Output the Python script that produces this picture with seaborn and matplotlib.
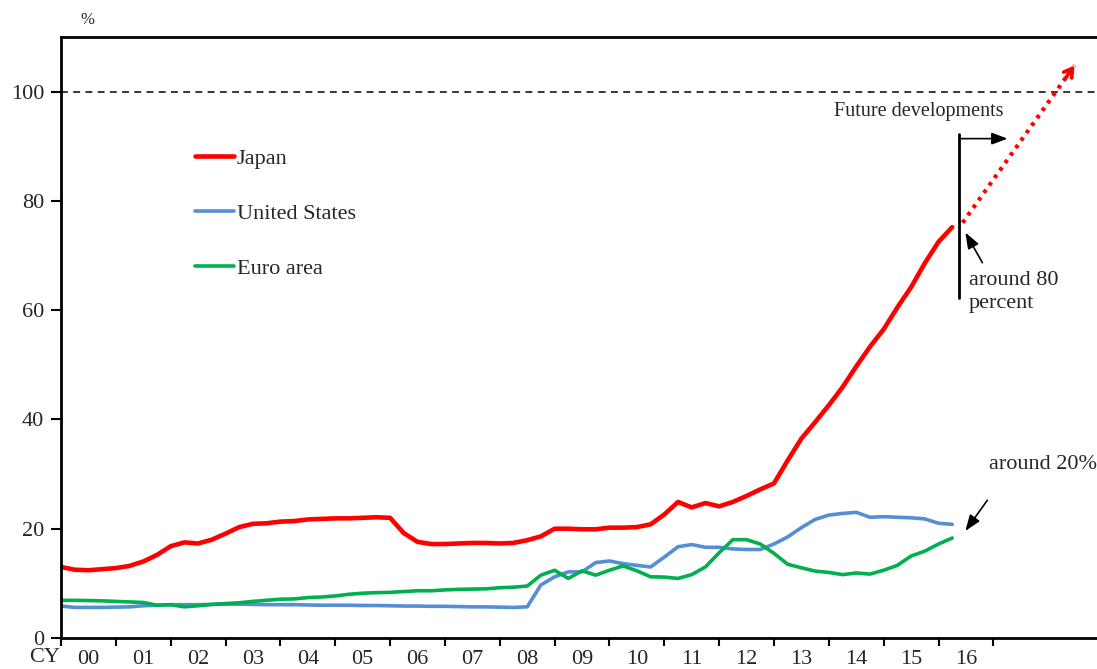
import matplotlib

matplotlib.use("Agg")
import matplotlib.pyplot as plt
import numpy as np
import pandas as pd
import seaborn as sns

# Central bank government bond holdings share, quarterly 2000Q1 - 2016Q2 (%)
QUARTERS = pd.period_range("2000Q1", "2016Q2", freq="Q")

japan = [
    13.0, 12.5, 12.4, 12.6, 12.8, 13.2, 14.0, 15.2, 16.8, 17.5,
    17.3, 18.0, 19.1, 20.3, 20.9, 21.0, 21.3, 21.4, 21.7, 21.8,
    21.9, 21.9, 22.0, 22.1, 22.0, 19.2, 17.6, 17.2, 17.2, 17.3,
    17.4, 17.4, 17.3, 17.4, 17.9, 18.6, 20.0, 20.0, 19.9, 19.9,
    20.2, 20.2, 20.3, 20.8, 22.6, 24.9, 23.9, 24.7, 24.1, 24.9,
    26.0, 27.2, 28.3, 32.5, 36.5, 39.5, 42.6, 45.9, 49.7, 53.3,
    56.5, 60.5, 64.2, 68.6, 72.5, 75.2,
]
united_states = [
    5.85, 5.6, 5.6, 5.6, 5.65, 5.7, 5.9, 6.0, 6.1, 6.1,
    6.1, 6.15, 6.2, 6.2, 6.15, 6.1, 6.1, 6.1, 6.05, 6.0,
    6.0, 6.0, 5.95, 5.95, 5.9, 5.85, 5.85, 5.8, 5.8, 5.75,
    5.7, 5.7, 5.65, 5.6, 5.7, 9.7, 11.2, 12.1, 12.1, 13.8,
    14.1, 13.6, 13.3, 13.0, 14.8, 16.7, 17.1, 16.6, 16.6, 16.3,
    16.2, 16.2, 17.2, 18.5, 20.2, 21.7, 22.5, 22.8, 23.0, 22.1,
    22.2, 22.1, 22.0, 21.8, 21.0, 20.8,
]
euro_area = [
    6.9, 6.9, 6.85, 6.8, 6.7, 6.6, 6.5, 6.0, 6.1, 5.7,
    5.9, 6.15, 6.3, 6.45, 6.7, 6.9, 7.1, 7.15, 7.4, 7.5,
    7.7, 8.0, 8.2, 8.3, 8.35, 8.5, 8.65, 8.65, 8.8, 8.9,
    8.95, 9.0, 9.2, 9.3, 9.5, 11.5, 12.4, 10.9, 12.3, 11.5,
    12.4, 13.2, 12.3, 11.2, 11.15, 10.9, 11.6, 13.0, 15.6, 18.0,
    18.0, 17.2, 15.5, 13.5, 12.85, 12.25, 12.0, 11.6, 11.9, 11.7,
    12.4, 13.3, 15.0, 15.9, 17.2, 18.3,
]

SERIES = ["Japan", "United States", "Euro area"]
COLORS = ["#FF0000", "#558ED5", "#00B050"]
WIDTHS = [3.3, 2.6, 2.6]

YEARS = list(range(2000, 2018))
YEAR_LABELS = [f"{y % 100:02d}" for y in range(2000, 2017)]
Y_TICKS = [0, 20, 40, 60, 80, 100]

# projection and annotation anchors (year, %)
proj_x = [2016.44, 2018.48]
proj_y = [76.0, 104.8]
future_line_x = 2016.38
future_line_y = (62.2, 92.3)
future_arrow_end = 2017.26
future_arrow_y = 91.4

FONT = ["Liberation Serif", "DejaVu Serif"]


def build_frame() -> pd.DataFrame:
    x = QUARTERS.year + (QUARTERS.quarter - 1) / 4
    frames = []
    for name, vals in zip(SERIES, [japan, united_states, euro_area]):
        frames.append(pd.DataFrame({"x": x, "value": vals, "series": name}))
    return pd.concat(frames, ignore_index=True)


def main() -> None:
    sns.set_theme(style="white")
    plt.rcParams["font.family"] = FONT
    plt.rcParams["axes.linewidth"] = 2.0

    df = build_frame()

    fig = plt.figure(figsize=(10.97, 6.69), dpi=100)
    ax = fig.add_axes([61 / 1097, 31 / 669, 1 - 61 / 1097, 601 / 669])

    for name, color, lw in zip(SERIES, COLORS, WIDTHS):
        sns.lineplot(
            data=df[df["series"] == name], x="x", y="value", color=color,
            linewidth=lw, label=name, ax=ax,
        )

    ax.axhline(100, color="black", linestyle=(0, (4.5, 3.5)), linewidth=1.1, zorder=1)

    # projection: dotted line plus an open arrowhead
    ax.plot(proj_x, proj_y, color="#FF0000", lw=3, linestyle=(0, (0.9, 1.3)),
            solid_capstyle="butt")
    tail = (proj_x[1] - 0.08 * (proj_x[1] - proj_x[0]), proj_y[1] - 0.08 * (proj_y[1] - proj_y[0]))
    ax.annotate(
        "", xy=(proj_x[1], proj_y[1]), xytext=tail,
        arrowprops=dict(arrowstyle="->,head_length=0.5,head_width=0.3",
                        color="#FF0000", lw=2.6, shrinkA=0, shrinkB=0),
    )

    ax.plot([future_line_x, future_line_x], future_line_y, color="black", lw=2)
    ax.annotate(
        "", xy=(future_arrow_end, future_arrow_y), xytext=(future_line_x, future_arrow_y),
        arrowprops=dict(arrowstyle="-|>,head_length=0.8,head_width=0.3",
                        color="black", lw=1.2, shrinkA=0, shrinkB=0),
    )
    ax.text(2015.64, 96.3, "Future developments", ha="center", va="center", fontsize=14.5)

    ax.annotate(
        "", xy=(2016.49, 74.2), xytext=(2016.80, 68.7),
        arrowprops=dict(arrowstyle="-|>,head_length=0.8,head_width=0.3",
                        color="black", lw=1.2, shrinkA=0, shrinkB=0),
    )
    ax.text(2016.55, 63.4, "around 80\npercent", ha="left", va="center",
            fontsize=16, linespacing=1.3)

    ax.annotate(
        "", xy=(2016.49, 19.6), xytext=(2016.89, 25.2),
        arrowprops=dict(arrowstyle="-|>,head_length=0.8,head_width=0.3",
                        color="black", lw=1.2, shrinkA=0, shrinkB=0),
    )
    ax.text(2016.92, 31.8, "around 20%", ha="left", va="center", fontsize=16)

    ax.set_xlim(2000, 2018.89)
    ax.set_ylim(0, 110)
    ax.set_xticks(YEARS)
    ax.set_xticklabels([])
    ax.set_xticks([y + 0.5 for y in range(2000, 2017)], minor=True)
    ax.set_xticklabels(YEAR_LABELS, minor=True)
    ax.tick_params(axis="x", which="major", direction="out", length=6, width=1.5,
                   bottom=True, color="black")
    ax.tick_params(axis="x", which="minor", length=0, pad=9, labelsize=16)
    ax.set_yticks(Y_TICKS)
    ax.tick_params(axis="y", direction="out", length=7, width=1.5, left=True,
                   pad=5, labelsize=16, color="black")
    ax.set_xlabel("")
    ax.set_ylabel("")
    ax.spines["right"].set_visible(False)
    for s in ["left", "bottom", "top"]:
        ax.spines[s].set_color("black")

    fig.text(60 / 1097, 1 - 658 / 669, "CY", ha="right", va="center", fontsize=16)
    fig.text(87 / 1097, 1 - 20 / 669, "%", ha="center", va="center", fontsize=12)

    leg = ax.legend(
        loc="upper left", bbox_to_anchor=(0.129, 0.815), frameon=False,
        fontsize=16, handlelength=1.75, handletextpad=0.15, labelspacing=1.55,
        borderpad=0, borderaxespad=0,
    )
    for line, lw in zip(leg.get_lines(), WIDTHS):
        line.set_linewidth(lw)

    fig.savefig("out.png", dpi=100)
    plt.close(fig)


if __name__ == "__main__":
    main()
